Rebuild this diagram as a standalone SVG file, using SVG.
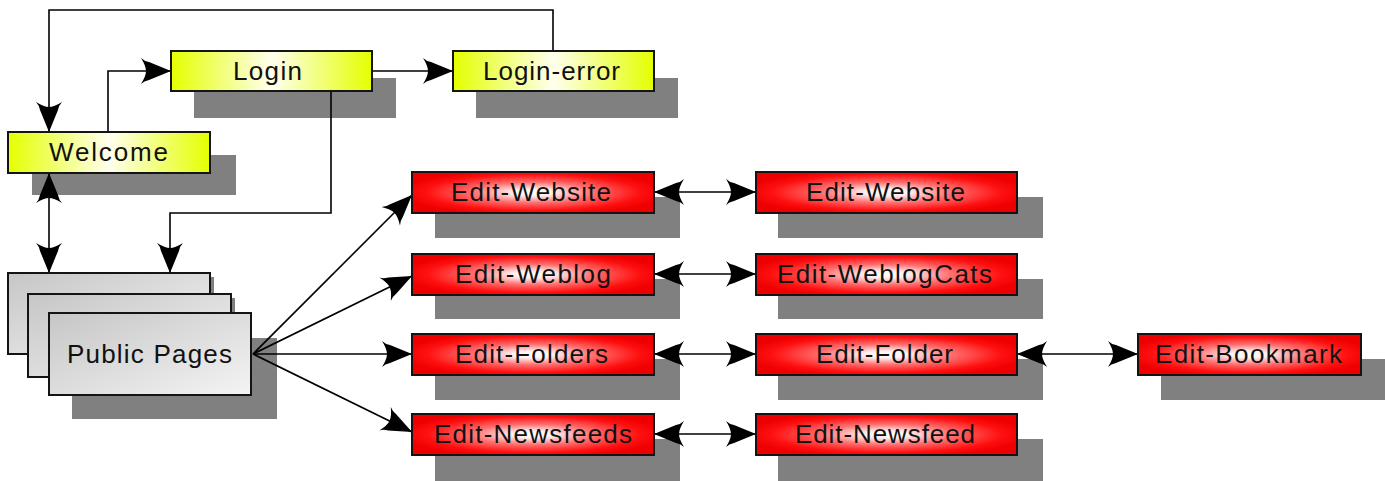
<svg xmlns="http://www.w3.org/2000/svg" width="1385" height="481" viewBox="0 0 1385 481">
  <defs>
    <linearGradient id="gYellow" x1="0" y1="0" x2="1" y2="0">
      <stop offset="0" stop-color="#e4ff00"/>
      <stop offset="0.5" stop-color="#ffffee"/>
      <stop offset="1" stop-color="#e4ff00"/>
    </linearGradient>
    <radialGradient id="gRed" cx="0.5" cy="0.5" r="0.55">
      <stop offset="0" stop-color="#ffffff"/>
      <stop offset="0.15" stop-color="#fff0f0"/>
      <stop offset="0.45" stop-color="#ff7070"/>
      <stop offset="0.8" stop-color="#ff1010"/>
      <stop offset="1" stop-color="#ee0000"/>
    </radialGradient>
    <linearGradient id="gGray" x1="0" y1="0" x2="1" y2="1">
      <stop offset="0" stop-color="#c6c6c6"/>
      <stop offset="1" stop-color="#f4f4f4"/>
    </linearGradient>
    <marker id="head" viewBox="-32 -15 34 30" refX="0" refY="0" markerWidth="34" markerHeight="30" markerUnits="userSpaceOnUse" orient="auto-start-reverse">
      <path d="M0,0 L-22,-9 Q-27,-10 -30,-13 Q-25,-5 -25,0 Q-25,5 -30,13 Q-27,10 -22,9 Z" fill="#000"/>
    </marker>
    <style>
      .shadow { fill: #808080; }
      .box { stroke: #141414; stroke-width: 2; }
      .yellow { fill: url(#gYellow); }
      .red { fill: url(#gRed); }
      .gray { fill: url(#gGray); }
      .label { font-family: "Liberation Sans", Arial, sans-serif; font-size: 26px; fill: #111; }
      .link { fill: none; stroke: #000; stroke-width: 1.6; }
      .one { marker-end: url(#head); }
      .two { marker-start: url(#head); marker-end: url(#head); }
    </style>
  </defs>
  <rect width="1385" height="481" fill="#fff"/>

  <!-- shadows are drawn first so that connectors run over them -->
  <g id="shadows">
    <rect class="shadow" x="194" y="78" width="202" height="40"/>
    <rect class="shadow" x="476" y="78" width="202" height="40"/>
    <rect class="shadow" x="32" y="155" width="204" height="40"/>
    <rect class="shadow" x="72" y="338" width="205" height="81"/>
    <rect class="shadow" x="435" y="197" width="245" height="41"/>
    <rect class="shadow" x="435" y="279" width="245" height="40"/>
    <rect class="shadow" x="435" y="359" width="245" height="41"/>
    <rect class="shadow" x="435" y="439" width="245" height="42"/>
    <rect class="shadow" x="778" y="197" width="265" height="41"/>
    <rect class="shadow" x="778" y="279" width="265" height="40"/>
    <rect class="shadow" x="778" y="359" width="265" height="41"/>
    <rect class="shadow" x="778" y="439" width="265" height="42"/>
    <rect class="shadow" x="1161" y="359" width="224" height="41"/>
  </g>

  <g id="connectors">
    <path class="link one" d="M553,50 V10 H49 V132"/>
    <path class="link one" d="M108,132 V71 H171"/>
    <path class="link one" d="M372,71 H453"/>
    <path class="link one" d="M331,91 V213 H170 V273"/>
    <path class="link two" d="M49,173 V273"/>
    <path class="link one" d="M253,354 L412,195"/>
    <path class="link one" d="M253,354 L412,276"/>
    <path class="link one" d="M253,354 L412,354"/>
    <path class="link one" d="M253,354 L412,432"/>
    <path class="link two" d="M654,192 H756"/>
    <path class="link two" d="M654,274 H756"/>
    <path class="link two" d="M654,354 H756"/>
    <path class="link two" d="M1017,354 H1138"/>
    <path class="link two" d="M654,434 H756"/>
  </g>

  <g id="login">
    <rect class="box yellow" x="171" y="51" width="201" height="40"/>
    <text class="label" x="233" y="80" textLength="69" lengthAdjust="spacing">Login</text>
  </g>
  <g id="login-error">
    <rect class="box yellow" x="453" y="51" width="201" height="40"/>
    <text class="label" x="483" y="80" textLength="137" lengthAdjust="spacing">Login-error</text>
  </g>
  <g id="welcome">
    <rect class="box yellow" x="8" y="132" width="202" height="41"/>
    <text class="label" x="49" y="161" textLength="119" lengthAdjust="spacing">Welcome</text>
  </g>

  <g id="public-pages">
    <rect class="shadow" x="211" y="277" width="3" height="80"/>
    <rect class="box gray" x="8" y="273" width="202" height="81"/>
    <rect class="shadow" x="232" y="298" width="3" height="82"/>
    <rect class="box gray" x="28" y="294" width="203" height="83"/>
    <rect class="box gray" x="49" y="313" width="202" height="82"/>
    <text class="label" x="67" y="363" textLength="165" lengthAdjust="spacing">Public Pages</text>
  </g>

  <g id="edit-website">
    <rect class="box red" x="412" y="172" width="242" height="41"/>
    <text class="label" x="451" y="201" textLength="160" lengthAdjust="spacing">Edit-Website</text>
  </g>
  <g id="edit-weblog">
    <rect class="box red" x="412" y="254" width="242" height="41"/>
    <text class="label" x="455" y="283" textLength="156" lengthAdjust="spacing">Edit-Weblog</text>
  </g>
  <g id="edit-folders">
    <rect class="box red" x="412" y="334" width="242" height="41"/>
    <text class="label" x="455" y="363" textLength="153" lengthAdjust="spacing">Edit-Folders</text>
  </g>
  <g id="edit-newsfeeds">
    <rect class="box red" x="412" y="414" width="242" height="41"/>
    <text class="label" x="434" y="443" textLength="198" lengthAdjust="spacing">Edit-Newsfeeds</text>
  </g>

  <g id="edit-website-2">
    <rect class="box red" x="756" y="172" width="261" height="41"/>
    <text class="label" x="806" y="201" textLength="159" lengthAdjust="spacing">Edit-Website</text>
  </g>
  <g id="edit-weblogcats">
    <rect class="box red" x="756" y="254" width="261" height="41"/>
    <text class="label" x="777" y="283" textLength="215" lengthAdjust="spacing">Edit-WeblogCats</text>
  </g>
  <g id="edit-folder">
    <rect class="box red" x="756" y="334" width="261" height="41"/>
    <text class="label" x="816" y="363" textLength="137" lengthAdjust="spacing">Edit-Folder</text>
  </g>
  <g id="edit-newsfeed">
    <rect class="box red" x="756" y="414" width="261" height="41"/>
    <text class="label" x="795" y="443" textLength="180" lengthAdjust="spacing">Edit-Newsfeed</text>
  </g>
  <g id="edit-bookmark">
    <rect class="box red" x="1138" y="334" width="223" height="41"/>
    <text class="label" x="1155" y="363" textLength="187" lengthAdjust="spacing">Edit-Bookmark</text>
  </g>
</svg>
